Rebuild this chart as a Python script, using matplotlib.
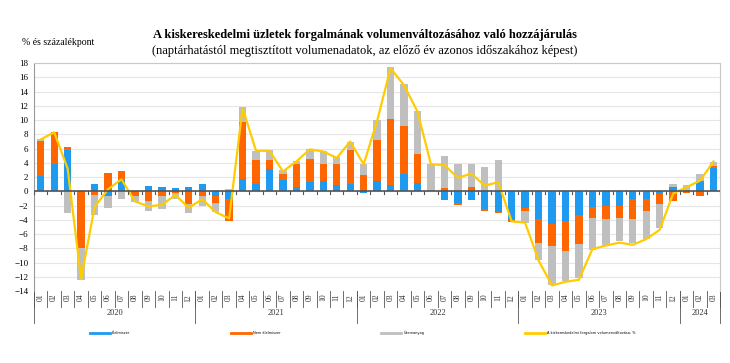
import numpy as np
import matplotlib.pyplot as plt
from matplotlib.lines import Line2D

# contributions, percentage points (food, non-food, fuel) and total change, %
food = [2.2, 3.8, 5.8, -0.1, 1.1, -0.7, 1.6, 0.05, 0.7, 0.6, 0.5, 0.6,
        1.0, -0.6, -1.0, 1.8, 1.0, 3.2, 1.6, 0.6, 1.3, 1.5, 0.9, 1.1,
        -0.2, 1.5, 0.9, 2.5, 1.2, 0.0, -1.2, -1.6, -1.2, -2.5, -2.9, -4.0,
        -2.3, -3.9, -4.6, -4.1, -3.3, -2.2, -2.0, -2.0, -1.1, -1.1, -0.3, 0.6,
        0.1, 1.5, 3.3]
nonfood = [4.9, 4.6, 0.4, -7.9, -0.5, 2.6, 1.2, -0.6, -1.4, -0.6, -0.2, -1.8,
           -0.6, -1.0, -3.2, 8.0, 3.4, 1.2, 0.9, 3.3, 3.3, 2.4, 3.0, 4.7,
           2.3, 5.7, 9.3, 6.7, 4.1, 0.1, 0.5, -0.3, 0.6, -0.2, -0.2, -0.3,
           -0.5, -3.3, -3.0, -4.2, -4.1, -1.5, -1.9, -1.8, -2.8, -1.7, -1.4, -1.3,
           -0.2, -0.7, 0.3]
fuel = [0.2, 0.0, -3.0, -4.5, -2.8, -1.6, -1.0, -0.9, -1.4, -1.9, -0.8, -1.2,
        -1.5, -1.3, 0.3, 2.0, 1.2, 1.4, 0.5, 0.4, 1.4, 1.7, 0.9, 1.2,
        1.6, 2.8, 7.2, 5.9, 6.0, 3.8, 4.4, 3.9, 3.3, 3.4, 4.4, 0.1,
        -1.6, -2.5, -5.5, -4.3, -4.8, -4.5, -3.8, -3.2, -3.4, -3.9, -3.5, 0.4,
        0.8, 0.9, 0.5]
total = [7.3, 8.3, 3.2, -12.3, -2.2, 0.3, 1.7, -1.4, -2.1, -1.9, -0.5, -2.3,
         -1.1, -2.9, -3.8, 11.7, 5.7, 5.7, 2.8, 4.2, 5.9, 5.6, 4.7, 7.0,
         3.8, 9.9, 17.3, 14.9, 11.2, 3.8, 3.7, 1.9, 2.5, 0.8, 1.3, -4.2,
         -4.4, -9.7, -13.2, -12.7, -12.4, -8.1, -7.6, -7.2, -7.5, -6.7, -5.4, -0.3,
         0.6, 1.5, 4.2]
years = ["2020", "2021", "2022", "2023", "2024"]
months_per_year = [12, 12, 12, 12, 3]
labels = ["Élelmiszer", "Nem élelmiszer", "Üzemanyag",
          "A kiskereskedelmi forgalom volumenváltozása, %"]
colors = ["#1E9BF0", "#FF6600", "#BFBFBF", "#FFCC00"]

plt.rcParams['font.family'] = ['Liberation Serif', 'DejaVu Serif']

fig = plt.figure(figsize=(7.3, 3.63), dpi=100)
ax = fig.add_axes([0.0466, 0.198, 0.94, 0.628])

n = len(total)
x = np.arange(n)
series = [np.array(food), np.array(nonfood), np.array(fuel)]
pos_base = np.zeros(n)
neg_base = np.zeros(n)
for s, c in zip(series, colors[:3]):
    base = np.where(s >= 0, pos_base, neg_base)
    ax.bar(x, s, 0.55, bottom=base, color=c, zorder=2)
    pos_base = pos_base + np.where(s >= 0, s, 0)
    neg_base = neg_base + np.where(s < 0, s, 0)

ax.plot(x, total, color=colors[3], lw=1.6, zorder=3)

ax.axhline(0, color="#555555", lw=1.2, zorder=4)
for b in np.arange(-0.5, n, 1.0):
    ax.plot([b, b], [0, -0.35], color="#555555", lw=0.8, zorder=4)

ax.set_xlim(-0.5, n - 0.5)
ax.set_ylim(-14, 18)
ax.set_yticks(range(-14, 19, 2))
ax.yaxis.grid(True, color="#E6E6E6", lw=0.8, zorder=0)
ax.set_xticks([])
ax.tick_params(axis="y", length=0, labelsize=6.5, pad=4)
for side in ["top", "right"]:
    ax.spines[side].set_color("#C8C8C8")
ax.spines["left"].set_color("#999999")
ax.spines["bottom"].set_visible(False)

# month and year rows under the plot
tr = ax.get_xaxis_transform()
for i in range(n):
    m = i % 12 + 1
    ax.text(i, -0.012, f"{m:02d}", transform=tr, rotation=90, ha="center",
            va="top", fontsize=5.5, color="#333333")
for b in np.arange(-0.5, n, 1.0):
    ax.plot([b, b], [0, -0.07], transform=tr, color="#555555", lw=0.6,
            clip_on=False)
start = 0
for y, cnt in zip(years, months_per_year):
    ax.plot([start - 0.5, start - 0.5], [0, -0.14], transform=tr,
            color="#555555", lw=0.6, clip_on=False)
    ax.text(start + cnt / 2 - 0.5, -0.098, y, transform=tr, ha="center",
            va="center", fontsize=6, color="#333333")
    start += cnt
ax.plot([n - 0.5, n - 0.5], [0, -0.14], transform=tr, color="#555555",
        lw=0.6, clip_on=False)

fig.text(0.5, 0.904, "A kiskereskedelmi üzletek forgalmának volumenváltozásához való hozzájárulás",
         ha="center", va="center", fontsize=9, fontweight="bold")
fig.text(0.5, 0.860, "(naptárhatástól megtisztított volumenadatok, az előző év azonos időszakához képest)",
         ha="center", va="center", fontsize=9)
fig.text(0.03, 0.882, "% és százalékpont", ha="left", va="center", fontsize=7)

handles = [Line2D([], [], color=c, lw=2) for c in colors]
fig.legend(handles, labels, loc="center", bbox_to_anchor=(0.497, 0.083),
           ncol=4, frameon=False, handlelength=5.8,
           columnspacing=29, handletextpad=0.6,
           prop={'family': 'DejaVu Sans', 'size': 2.5})

fig.savefig("out.png", dpi=100)
